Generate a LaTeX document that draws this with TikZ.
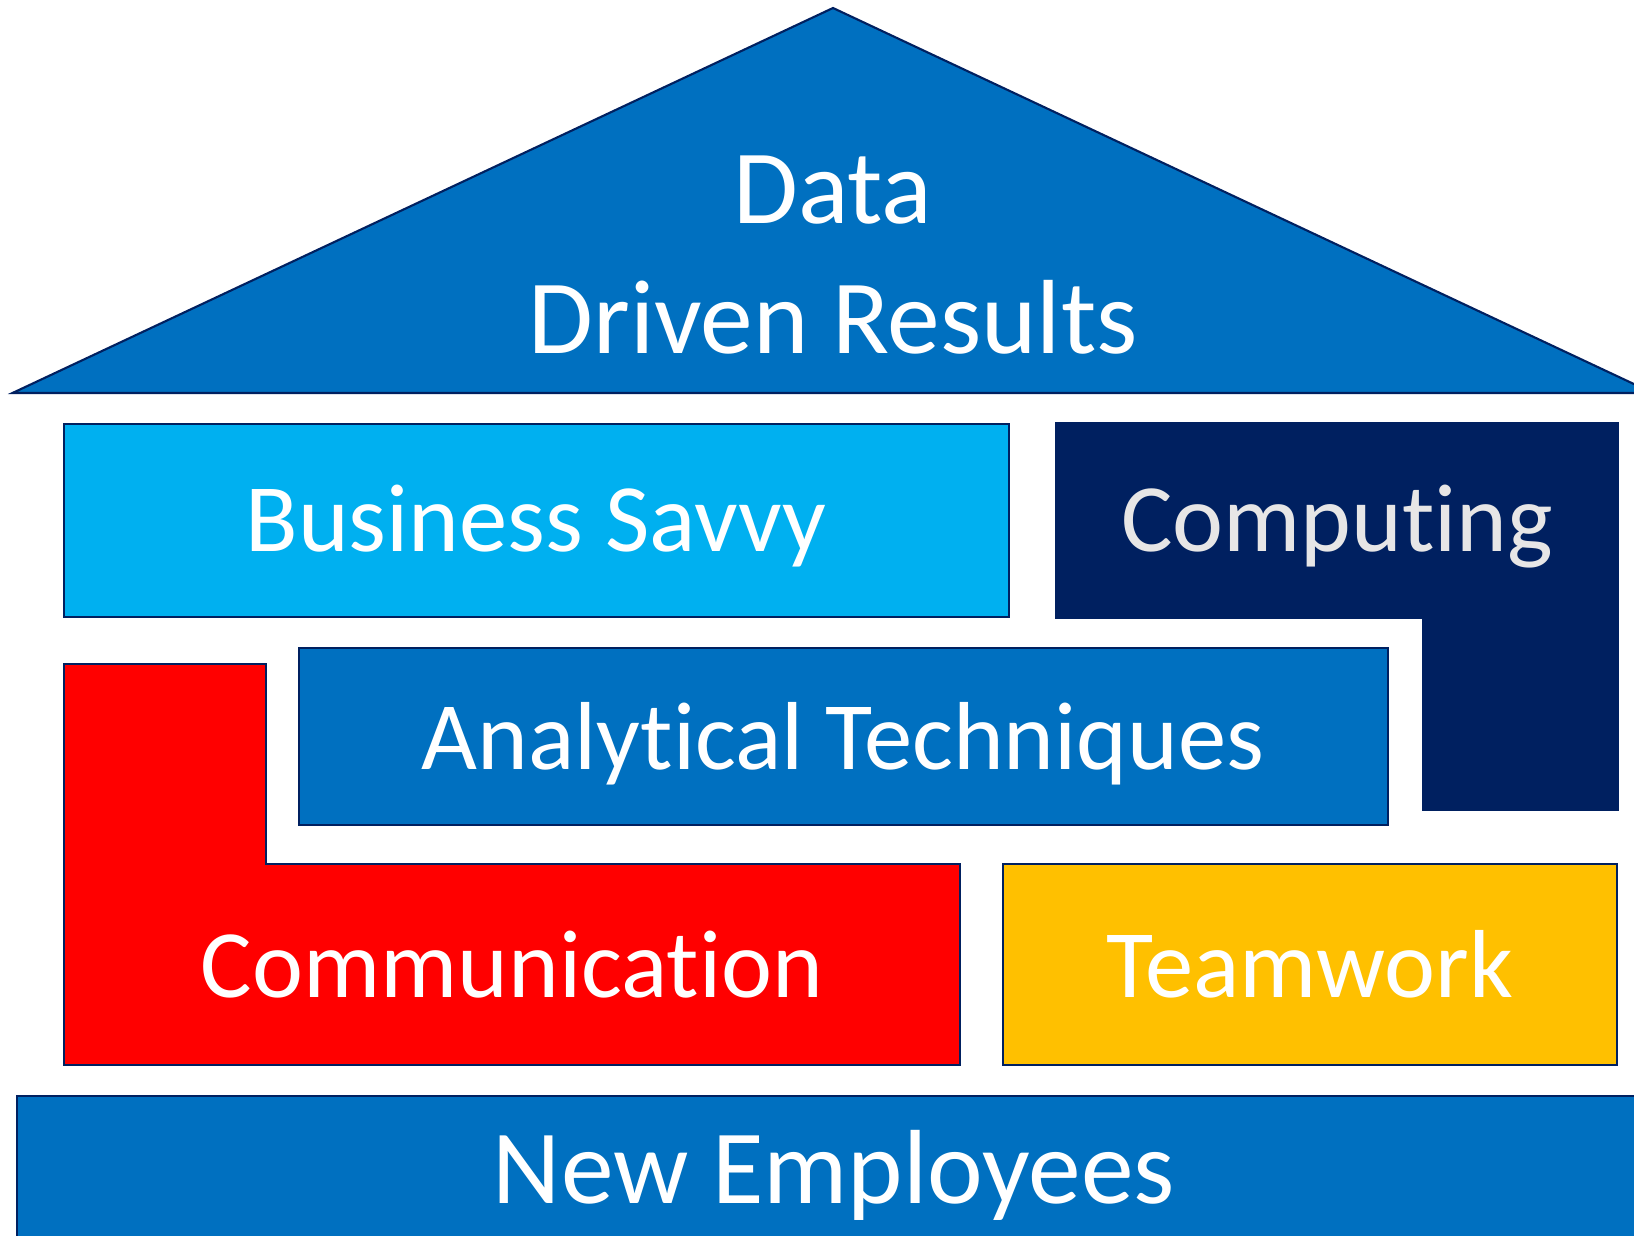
\documentclass[tikz,border=0pt]{standalone}
\usepackage{fontspec}
\setmainfont{Carlito}[Ligatures=NoCommon]
\definecolor{roofblue}{HTML}{0070C0}
\definecolor{skyblue}{HTML}{00B0F0}
\definecolor{navy}{HTML}{002060}
\definecolor{signalred}{HTML}{FF0000}
\definecolor{gold}{HTML}{FFC000}
\definecolor{lightgray}{HTML}{E7E6E6}
\begin{document}
\begin{tikzpicture}[
	line width=1.2pt,
	x=0.02cm,y=-0.02cm,
	font=\fontsize{55}{55}\selectfont,
	block/.style={draw=navy, line join=miter},
	word/.style={text=white, anchor=base, inner sep=0pt},
	bigword/.style={word, font=\fontsize{60}{60}\selectfont}
	]
	% frame
\clip (0,0) rectangle (1634,1236);

% blocks
\filldraw[block, fill=roofblue] (12.5,393) -- (833,8) -- (1653,393) -- cycle;
\filldraw[block, fill=skyblue] (64,424) rectangle (1009,617);
\filldraw[block, fill=navy] (1056,423) -- (1618,423) -- (1618,810) -- (1423,810) -- (1423,618) -- (1056,618) -- cycle;
\filldraw[block, fill=roofblue] (299,648) rectangle (1388,825);
\filldraw[block, fill=signalred] (64,664) -- (266,664) -- (266,864) -- (960,864) -- (960,1065) -- (64,1065) -- cycle;
\filldraw[block, fill=gold] (1003,864) rectangle (1617,1065);
\filldraw[block, fill=roofblue] (17,1096) rectangle (1660,1260);
% end blocks

			\node[bigword] (data_833_224)   at (833,224) {Data};
			\node[bigword] (driven_833_354)   at (833,354) {Driven Results};
			\node[word] (business_536_552)   at (536,552) {Business Savvy};
			\node[word, text=lightgray] (computing_1337_552)   at (1337,552) {Computing};
			\node[word] (analytical_843_769)   at (843,769) {Analytical Techniques};
			\node[word] (communication_512_997)   at (512,997) {Communication};
			\node[word] (teamwork_1310_997)   at (1310,997) {Teamwork};
			\node[bigword] (employees_834_1203)   at (834,1203) {New Employees};

\end{tikzpicture}
\end{document}
